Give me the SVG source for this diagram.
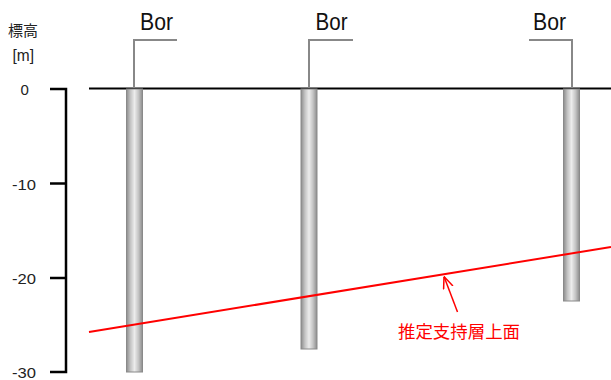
<svg xmlns="http://www.w3.org/2000/svg" width="611" height="380" viewBox="0 0 611 380">
<style>
.lbl{font-family:"Liberation Sans","Noto Sans CJK JP",sans-serif;fill:#222}
.bor{font-family:"Liberation Sans",sans-serif;font-size:24px;fill:#111}
.tick{font-family:"Liberation Sans",sans-serif;font-size:15px;fill:#222}
.pile{fill:url(#pg);stroke:#8a8a8a;stroke-width:1}
.lead{fill:none;stroke:#888;stroke-width:2}
</style>
<defs>
<linearGradient id="pg" x1="0" y1="0" x2="1" y2="0">
<stop offset="0" stop-color="#8c8c8c"/>
<stop offset="0.25" stop-color="#c4c4c4"/>
<stop offset="0.5" stop-color="#ececec"/>
<stop offset="0.75" stop-color="#c4c4c4"/>
<stop offset="1" stop-color="#8c8c8c"/>
</linearGradient>
<marker id="arr" viewBox="0 0 12 12" refX="12" refY="6" markerWidth="12" markerHeight="12" markerUnits="userSpaceOnUse" orient="auto">
<path d="M0,1 L12,6 L0,11" fill="none" stroke="#f00" stroke-width="1.5"/>
</marker>
</defs>
<g id="axis">
<text class="lbl" x="8" y="36" font-size="15" textLength="30" lengthAdjust="spacingAndGlyphs">標高</text>
<text class="lbl" x="12.5" y="61" font-size="16" textLength="21.5" lengthAdjust="spacingAndGlyphs">[m]</text>
<polyline points="50,89 66,89 66,372 50,372" fill="none" stroke="#000" stroke-width="2.5"/>
<line x1="50" y1="183.5" x2="66" y2="183.5" stroke="#000" stroke-width="2.5"/>
<line x1="50" y1="278" x2="66" y2="278" stroke="#000" stroke-width="2.5"/>
<text class="tick" x="20.5" y="95">0</text>
<text class="tick" x="12" y="190" textLength="24" lengthAdjust="spacingAndGlyphs">-10</text>
<text class="tick" x="12" y="284" textLength="24" lengthAdjust="spacingAndGlyphs">-20</text>
<text class="tick" x="12" y="378" textLength="24" lengthAdjust="spacingAndGlyphs">-30</text>
</g>
<g id="ground">
<line x1="89" y1="88.5" x2="611" y2="88.5" stroke="#000" stroke-width="2"/>
</g>
<g id="bor1">
<rect class="pile" x="126.5" y="89" width="16" height="283"/>
<polyline class="lead" points="134,88 134,40 177,40"/>
<text class="bor" x="140" y="30" textLength="33" lengthAdjust="spacingAndGlyphs">Bor</text>
</g>
<g id="bor2">
<rect class="pile" x="301" y="89" width="16" height="260"/>
<polyline class="lead" points="309,88 309,40 353,40"/>
<text class="bor" x="315.5" y="30" textLength="32" lengthAdjust="spacingAndGlyphs">Bor</text>
</g>
<g id="bor3">
<rect class="pile" x="563.5" y="89" width="16" height="212"/>
<polyline class="lead" points="529,40 572,40 572,88"/>
<text class="bor" x="533" y="30" textLength="33" lengthAdjust="spacingAndGlyphs">Bor</text>
</g>
<g id="connectors">
<line x1="89" y1="332" x2="611" y2="247" stroke="#f00" stroke-width="2"/>
<line x1="457.5" y1="312" x2="444" y2="276.5" stroke="#f00" stroke-width="1.5" marker-end="url(#arr)"/>
</g>
<g id="label">
<text x="398" y="338" font-family="'Noto Sans CJK JP',sans-serif" font-size="17" fill="#f00" textLength="122" lengthAdjust="spacingAndGlyphs">推定支持層上面</text>
</g>
</svg>
